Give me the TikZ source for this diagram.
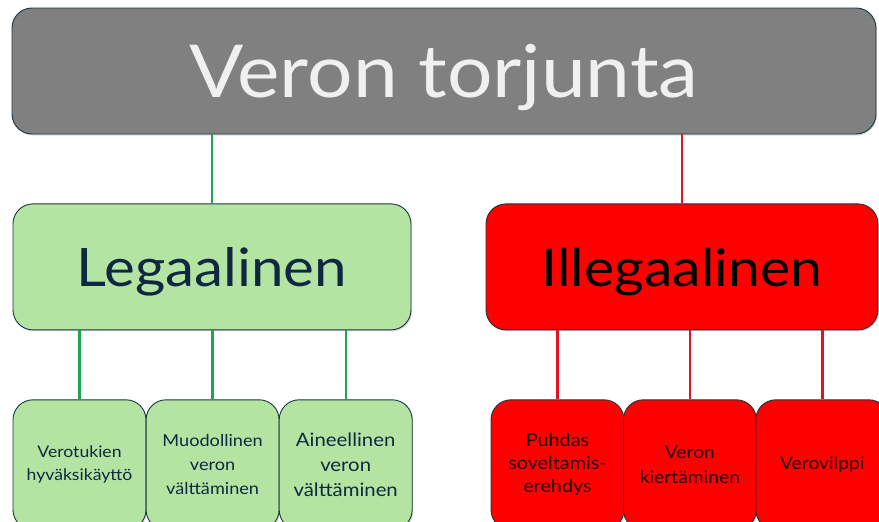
\documentclass[tikz,border=0pt]{standalone}
\usepackage{fontspec}
\setmainfont{Lato}[FakeStretch=1.1]
\usetikzlibrary{positioning, shadows}
\definecolor{topgray}{HTML}{808080}
\definecolor{legalgreen}{HTML}{B4E4A2}
\definecolor{illegalred}{HTML}{FF0000}
\definecolor{edgedark}{HTML}{1B3440}
\definecolor{textnavy}{HTML}{0E2841}
\definecolor{linkgreen}{HTML}{1EA552}
\definecolor{linkred}{HTML}{E0141E}

\begin{document}
\begin{tikzpicture}[
  x=1pt, y=-1pt,
  box/.style={rectangle, draw=edgedark, line width=0.9pt, rounded corners=20pt, align=center, inner sep=2pt, drop shadow={shadow xshift=1pt, shadow yshift=-1.5pt, opacity=0.3}},
  topbox/.style={box, fill=topgray, text=white!94!black, minimum width=864pt, minimum height=126pt, text depth=0pt, font=\fontsize{73}{78}\selectfont},
  legalbox/.style={box, fill=legalgreen, text=textnavy, minimum width=398pt, minimum height=126pt, text depth=0pt, font=\fontsize{53}{56}\selectfont},
  illegalbox/.style={box, fill=illegalred, text=black, minimum width=392pt, minimum height=126pt, text depth=0pt, font=\fontsize{52}{56}\selectfont},
  legalsub/.style={box, fill=legalgreen, text=textnavy, minimum width=133pt, minimum height=130pt},
  illegalsub/.style={box, fill=illegalred, text=black!85!red, minimum width=133pt, minimum height=130pt},
  greenlink/.style={draw=linkgreen, line width=2.4pt},
  redlink/.style={draw=linkred, line width=2.4pt},
]
\useasboundingbox (0,0) rectangle (879,522);
\clip (0,0) rectangle (879,522);

% Top level
\node[topbox] (torjunta) at (444,71) {Veron torjunta};

% Second level
\node[legalbox, below right=69pt and 1pt of torjunta.south west] (legal) {Legaalinen};
\node[illegalbox, below left=69pt and -2pt of torjunta.south east] (illegal) {Illegaalinen};

% Legal branch
\node[legalsub, below right=69pt and 0pt of legal.south west, font=\fontsize{16}{23}\selectfont] (tukien) {Verotukien\\hyväksikäyttö};
\node[legalsub, right=-0.8pt of tukien, font=\fontsize{16.5}{24}\selectfont] (muodollinen) {Muodollinen\\veron\\välttäminen};
\node[legalsub, right=-0.8pt of muodollinen, font=\fontsize{18.5}{25}\selectfont] (aineellinen) {Aineellinen\\veron\\välttäminen};

% Illegal branch
\node[illegalsub, below right=69pt and 5pt of illegal.south west, font=\fontsize{18}{23}\selectfont] (erehdys) {Puhdas\\soveltamis-\\erehdys};
\node[illegalsub, right=-1.5pt of erehdys, font=\fontsize{17.5}{25}\selectfont] (kiertaminen) {Veron\\kiertäminen};
\node[illegalsub, right=-1.5pt of kiertaminen, font=\fontsize{17.5}{23}\selectfont] (vilppi) {Verovilppi};

% Connectors
\draw[greenlink] (torjunta.south -| legal.north) -- (legal.north);
\draw[redlink] (torjunta.south -| illegal.north) -- (illegal.north);
\draw[greenlink] (legal.south -| tukien.north) -- (tukien.north);
\draw[greenlink] (legal.south -| muodollinen.north) -- (muodollinen.north);
\draw[greenlink] (legal.south -| aineellinen.north) -- (aineellinen.north);
\draw[redlink] (illegal.south -| erehdys.north) -- (erehdys.north);
\draw[redlink] (illegal.south -| kiertaminen.north) -- (kiertaminen.north);
\draw[redlink] (illegal.south -| vilppi.north) -- (vilppi.north);

\end{tikzpicture}
\end{document}
